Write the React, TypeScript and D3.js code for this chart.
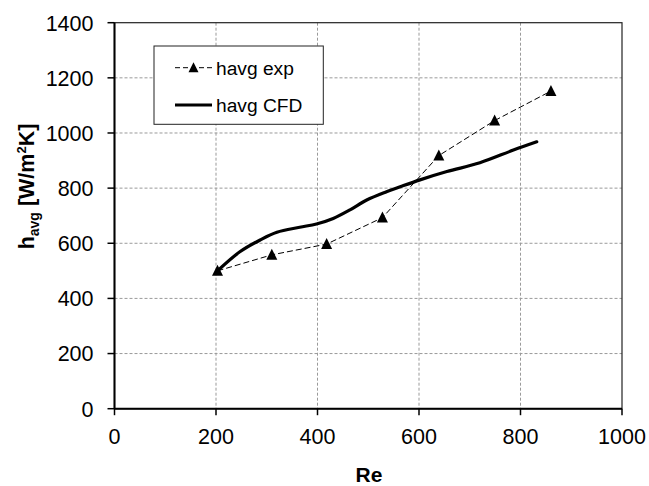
import React from "react";
import * as d3 from "d3";

// experimental points (Re, h_avg)
const reExp = [203, 310, 418, 528, 639, 749, 860];
const hExp = [500, 558, 597, 693, 918, 1045, 1152];

// CFD curve samples
const reCfd = [203, 247, 287, 320, 365, 398, 431, 464, 497, 536, 563, 602, 655, 720, 786, 832];
const hCfd = [500, 569, 612, 640, 658, 670, 690, 721, 757, 787, 805, 830, 860, 892, 938, 968];

const xTicks = [0, 200, 400, 600, 800, 1000];
const yTicks = [0, 200, 400, 600, 800, 1000, 1200, 1400];

const W = 649;
const H = 486;
const left = 114.5;
const right = 622;
const top = 22.7;
const bottom = 408.7;
const font = "'Liberation Sans', Arial, sans-serif";

function triangle(cx: number, cy: number, s: number) {
  return `M${cx},${cy - s * 0.55} L${cx + s / 2},${cy + s * 0.45} L${cx - s / 2},${cy + s * 0.45} Z`;
}

export default function App() {
  const x = d3.scaleLinear().domain([0, 1000]).range([left, right]);
  const y = d3.scaleLinear().domain([0, 1400]).range([bottom, top]);

  const expLine = d3
    .line<number>()
    .x((d, i) => x(reExp[i]))
    .y((d) => y(d));
  const cfdLine = d3
    .line<number>()
    .x((d, i) => x(reCfd[i]))
    .y((d) => y(d))
    .curve(d3.curveCatmullRom);

  return (
    <div style={{ position: "absolute", left: 0, top: 0 }}>
      <svg width={W} height={H} style={{ display: "block", background: "#fff" }} fontFamily={font}>
        {/* grid */}
        {xTicks.slice(1, -1).map((t) => (
          <line key={"gx" + t} x1={x(t)} x2={x(t)} y1={top} y2={bottom} stroke="#9a9a9a" strokeWidth={1} strokeDasharray="3,2" />
        ))}
        {yTicks.slice(1, -1).map((t) => (
          <line key={"gy" + t} x1={left} x2={right} y1={y(t)} y2={y(t)} stroke="#9a9a9a" strokeWidth={1} strokeDasharray="3,2" />
        ))}
        {/* plot border */}
        <rect x={left} y={top} width={right - left} height={bottom - top} fill="none" stroke="#222" strokeWidth={1.2} />
        {/* axes */}
        <line x1={left} x2={left} y1={top} y2={bottom} stroke="#000" strokeWidth={2} />
        <line x1={left} x2={right} y1={bottom} y2={bottom} stroke="#000" strokeWidth={2} />
        {xTicks.map((t) => (
          <g key={"xt" + t}>
            <line x1={x(t)} x2={x(t)} y1={bottom} y2={bottom + 6.5} stroke="#000" strokeWidth={1.5} />
            <text x={x(t)} y={444} textAnchor="middle" fontSize={21.5} fill="#000">
              {t}
            </text>
          </g>
        ))}
        {yTicks.map((t) => (
          <g key={"yt" + t}>
            <line x1={left - 7} x2={left} y1={y(t)} y2={y(t)} stroke="#000" strokeWidth={1.5} />
            <text x={93.5} y={y(t) + 7.8} textAnchor="end" fontSize={21.5} fill="#000">
              {t}
            </text>
          </g>
        ))}
        {/* axis titles */}
        <text x={369} y={481.5} textAnchor="middle" fontSize={21} fontWeight="bold">
          Re
        </text>
        <text transform="translate(33.5,186.5) rotate(-90)" textAnchor="middle" fontSize={21.5} fontWeight="bold">
          h<tspan fontSize={14} dy={5}>avg</tspan>
          <tspan dy={-5}> [W/m</tspan>
          <tspan fontSize={13} dy={-8}>2</tspan>
          <tspan dy={8}>K]</tspan>
        </text>
        {/* series */}
        <path d={cfdLine(hCfd) || ""} fill="none" stroke="#000" strokeWidth={3.2} strokeLinecap="round" />
        <path d={expLine(hExp) || ""} fill="none" stroke="#000" strokeWidth={1} strokeDasharray="6,3" />
        {hExp.map((h, i) => (
          <path key={"m" + i} d={triangle(x(reExp[i]), y(h), 11)} fill="#000" />
        ))}
        {/* legend */}
        <rect x={154} y={46} width={169.3} height={78.3} fill="#fff" stroke="#222" strokeWidth={1} />
        <line x1={175} x2={212} y1={67.7} y2={67.7} stroke="#000" strokeWidth={1} strokeDasharray="5,3" />
        <path d={triangle(193.5, 67.7, 10)} fill="#000" />
        <text x={216} y={74.5} fontSize={19.2} fill="#000">
          havg exp
        </text>
        <line x1={175} x2={212} y1={105} y2={105} stroke="#000" strokeWidth={3.2} />
        <text x={216} y={112} fontSize={19.2} fill="#000">
          havg CFD
        </text>
      </svg>
    </div>
  );
}
